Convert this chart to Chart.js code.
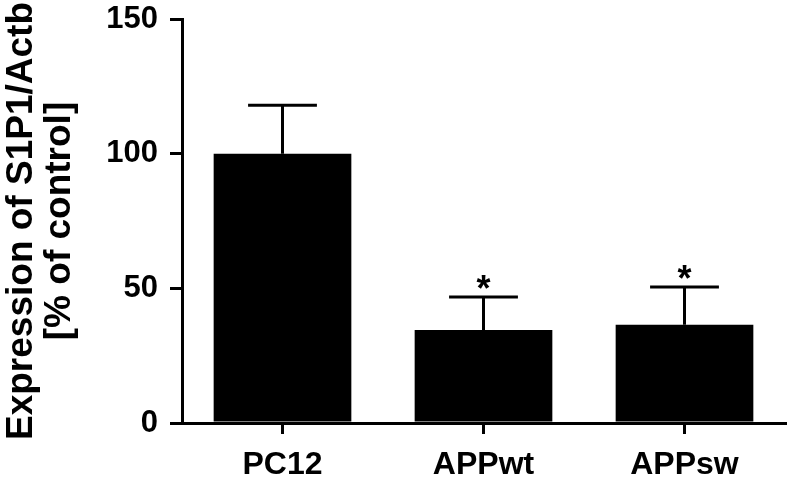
<!DOCTYPE html>
<html>
<head>
<meta charset="utf-8">
<script src="https://cdn.jsdelivr.net/npm/chart.js@4.4.0/dist/chart.umd.min.js"></script>
<style>
  body { margin: 0; background: #fff; }
  canvas { display: block; }
</style>
</head>
<body>
<canvas id="s1p1Chart" width="790" height="481"></canvas>
<script>
// Chart data.
const categories = ['PC12', 'APPwt', 'APPsw'];
const means = [100, 34.5, 36.5]; // Mean expression (% of control).
const errors = [18, 12.3, 14]; // Upper error (SEM).
const significant = [false, true, true]; // Asterisk above bar.
const yTicks = [0, 50, 100, 150];
const yTitle = ['Expression of S1P1/Actb', '[% of control]'];

const fontFamily = '"Liberation Sans", Arial, Helvetica, sans-serif';

// Draws upper error bars and significance stars.
const errorBars = {
    id: 'errorBars',
    afterDatasetsDraw(chart) {
        const ctx = chart.ctx;
        const y = chart.scales.y;
        const meta = chart.getDatasetMeta(0);
        ctx.save();
        ctx.strokeStyle = '#000';
        ctx.fillStyle = '#000';
        ctx.lineWidth = 3;
        meta.data.forEach((bar, i) => {
            const top = y.getPixelForValue(means[i] + errors[i]);
            const half = bar.width / 4;
            ctx.beginPath();
            ctx.moveTo(bar.x, bar.y);
            ctx.lineTo(bar.x, top);
            ctx.moveTo(bar.x - half, top);
            ctx.lineTo(bar.x + half, top);
            ctx.stroke();
            if (significant[i]) {
                ctx.font = 'bold 36px ' + fontFamily;
                ctx.textAlign = 'center';
                ctx.textBaseline = 'alphabetic';
                ctx.fillText('*', bar.x, top + 4);
            }
        });
        ctx.restore();
    }
};

const ctx = document.getElementById('s1p1Chart').getContext('2d');
new Chart(ctx, {
    type: 'bar',
    data: {
        labels: categories,
        datasets: [{
            data: means,
            backgroundColor: '#000',
            borderWidth: 0,
            barPercentage: 0.685,
            categoryPercentage: 1
        }]
    },
    options: {
        responsive: false,
        animation: false,
        layout: {padding: {top: 0, right: 5, left: 0, bottom: 0}},
        plugins: {legend: {display: false}, tooltip: {enabled: false}},
        scales: {
            x: {
                grid: {offset: false, drawOnChartArea: false, tickLength: 11, color: '#000', lineWidth: 3},
                border: {display: true, color: '#000', width: 3},
                ticks: {color: '#000', padding: 12, font: {family: fontFamily, size: 32, weight: 'bold'}},
                afterFit: scale => { scale.height = 58; }
            },
            y: {
                min: 0,
                max: 150,
                afterBuildTicks: scale => { scale.ticks = yTicks.map(v => ({value: v})); },
                grid: {drawOnChartArea: false, tickLength: 12, color: '#000', lineWidth: 3},
                border: {display: true, color: '#000', width: 3},
                ticks: {color: '#000', padding: 12, font: {family: fontFamily, size: 31, weight: 'bold'}},
                title: {
                    display: true,
                    text: yTitle,
                    color: '#000',
                    padding: {top: 2, bottom: 0},
                    font: {family: fontFamily, size: 37, weight: 'bold', lineHeight: 1.05}
                },
                // Fixed axis width and room above the top tick.
                afterFit: scale => {
                    scale.width = 182;
                    scale.paddingTop = 19;
                    scale.paddingBottom = 0;
                }
            }
        }
    },
    plugins: [errorBars]
});
</script>
</body>
</html>
